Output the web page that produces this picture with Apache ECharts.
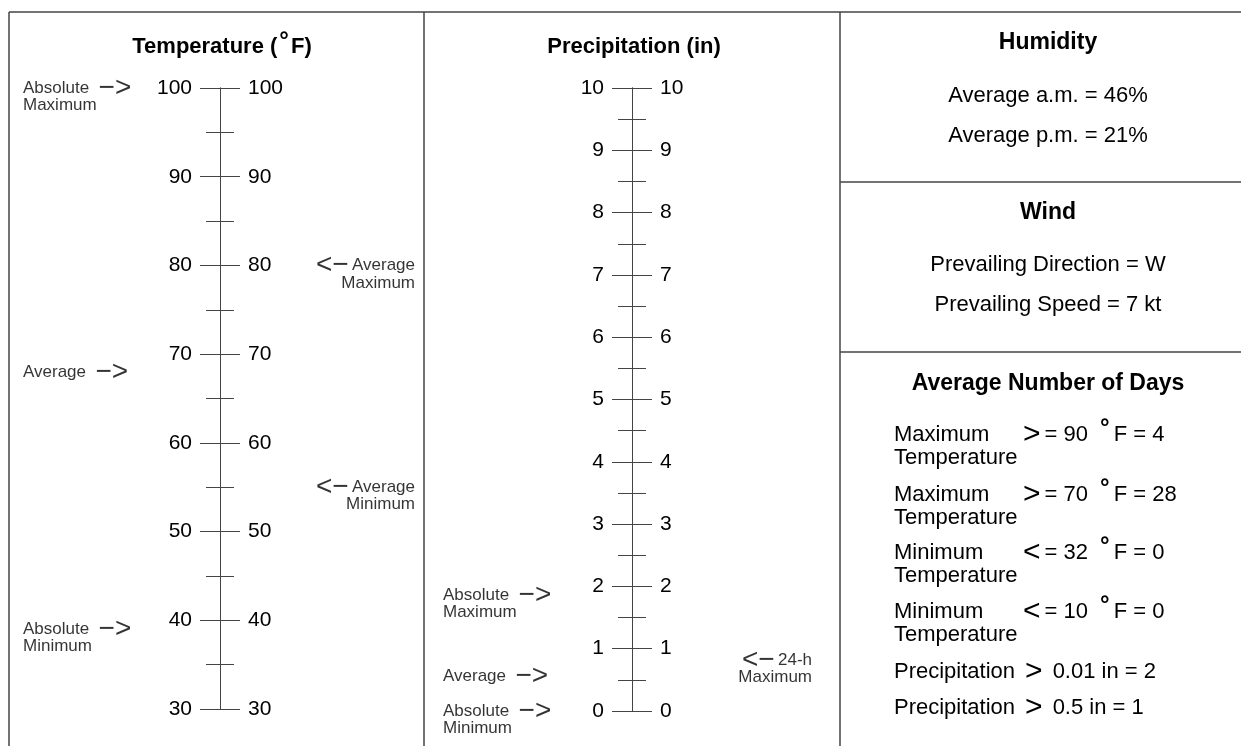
<!DOCTYPE html>
<html>
<head>
<meta charset="utf-8">
<title>Climate summary</title>
<script src="https://cdn.jsdelivr.net/npm/echarts@6/dist/echarts.min.js"></script>
<style>
  html, body { margin: 0; padding: 0; background: #fff; }
  #main { width: 1241px; height: 746px; }
</style>
</head>
<body>
<div id="main"></div>
<script>
// scales
var tempRange = [30, 100];
var tempStep = 10;
var precipRange = [0, 10];
var precipStep = 1;

// arrows on the temperature scale
var tempMarkNames = ['Absolute Maximum', 'Average Maximum', 'Average', 'Average Minimum', 'Absolute Minimum'];
var tempMarkValues = [100, 80, 68, 55, 39];

// arrows on the precipitation scale
var precipMarkNames = ['Absolute Maximum', 'Average', 'Absolute Minimum', '24-h Maximum'];
var precipMarkValues = [1.86, 0.55, 0, 0.82];

// right column
var humidityLabels = ['Average a.m.', 'Average p.m.'];
var humidityValues = ['46%', '21%'];
var windLabels = ['Prevailing Direction', 'Prevailing Speed'];
var windValues = ['W', '7 kt'];

var dayLabels = ['Maximum\nTemperature', 'Maximum\nTemperature', 'Minimum\nTemperature', 'Minimum\nTemperature', 'Precipitation', 'Precipitation'];
var dayOps = ['>=', '>=', '<=', '<=', '>', '>'];
var dayLimits = ['90', '70', '32', '10', '0.01', '0.5'];
var dayUnits = ['°F', '°F', '°F', '°F', 'in', 'in'];
var dayValues = [4, 28, 0, 0, 2, 1];

// layout (not data)
var tempMarkSide = ['left', 'right', 'left', 'right', 'left'];
var precipMarkSide = ['left', 'left', 'left', 'right'];
var FONT = '"Liberation Sans", Arial, Helvetica, sans-serif';
var LINE = '#444';

var myChart = echarts.init(document.getElementById('main'));

var markRich = {
  t: { fontFamily: FONT, fontSize: 17, lineHeight: 20, color: '#000' },
  a: { fontFamily: FONT, fontSize: 28, lineHeight: 20, color: '#000' },
  s: { fontFamily: FONT, fontSize: 17, lineHeight: 15, color: '#000' }
};

function markText(name, side) {
  var k = name.indexOf(' ');
  var first = k < 0 ? name : name.slice(0, k);
  var rest = k < 0 ? '' : name.slice(k + 1);
  var line1 = side == 'left' ? '{t|' + first + '  }{a|−>}' : '{a|<−} {t|' + first + '}';
  return rest ? line1 + '\n{s|' + rest + '}' : line1;
}

function markSeries(idx, names, values, sides, leftDx, rightDx) {
  return {
    type: 'scatter',
    xAxisIndex: idx,
    yAxisIndex: idx * 2,
    symbolSize: 0,
    silent: true,
    clip: false,
    data: values.map(function (v, i) {
      return {
        value: [0, v],
        label: {
          show: true,
          color: '#000',
          position: [sides[i] == 'left' ? leftDx : rightDx, -10],
          align: sides[i],
          verticalAlign: 'top',
          formatter: markText(names[i], sides[i]),
          rich: markRich
        }
      };
    })
  };
}

function scaleAxis(grid, pos, range, step) {
  return {
    type: 'value',
    gridIndex: grid,
    position: pos,
    min: range[0],
    max: range[1],
    interval: step,
    axisLine: { show: true, lineStyle: { color: LINE, width: 1 } },
    axisTick: { show: true, length: 20, lineStyle: { color: LINE, width: 1 } },
    minorTick: { show: true, splitNumber: 2, length: 14, lineStyle: { color: LINE, width: 1 } },
    splitLine: { show: false },
    axisLabel: { margin: 28, fontFamily: FONT, fontSize: 21, color: '#000' }
  };
}

function txt(x, y, text, size, bold, align, rich) {
  return {
    type: 'text',
    x: x,
    y: y,
    silent: true,
    style: {
      text: text,
      fontFamily: FONT,
      fontSize: size,
      fontWeight: bold ? 'bold' : 'normal',
      fill: '#000',
      align: align || 'center',
      verticalAlign: 'middle',
      textAlign: align || 'center',
      textVerticalAlign: 'middle',
      rich: rich
    }
  };
}

function line(x1, y1, x2, y2) {
  return {
    type: 'line',
    silent: true,
    shape: { x1: x1, y1: y1, x2: x2, y2: y2 },
    style: { stroke: LINE, lineWidth: 1.5 }
  };
}

var degRich = {
  b: { fontFamily: FONT, fontSize: 22, fontWeight: 'bold', color: '#000' },
  d: { fontFamily: FONT, fontSize: 24, fontWeight: 'bold', color: '#000', padding: [0, 2, 12, 2] }
};
var rowRich = {
  n: { fontFamily: FONT, fontSize: 22, color: '#000' },
  g: { fontFamily: FONT, fontSize: 30, color: '#000', padding: [0, 4, 0, 0] },
  d: { fontFamily: FONT, fontSize: 24, fontWeight: 'bold', color: '#000', padding: [0, 4, 14, 6] }
};

var graphics = [
  line(9, 12, 1241, 12),
  line(9, 12, 9, 746),
  line(424, 12, 424, 746),
  line(840, 12, 840, 746),
  line(840, 182, 1241, 182),
  line(840, 352, 1241, 352),
  txt(222, 47, '{b|Temperature (}{d|°}{b|F)}', 22, true, 'center', degRich),
  txt(634, 47, 'Precipitation (in)', 22, true),
  txt(1048, 43, 'Humidity', 23, true),
  txt(1048, 213, 'Wind', 23, true),
  txt(1048, 384, 'Average Number of Days', 23, true)
];

humidityLabels.forEach(function (l, i) {
  graphics.push(txt(1048, 96 + i * 40, l + ' = ' + humidityValues[i], 22));
});
windLabels.forEach(function (l, i) {
  graphics.push(txt(1048, 265 + i * 40, l + ' = ' + windValues[i], 22));
});

var dayRowY = [435, 495, 553, 612, 672, 708];
dayLabels.forEach(function (l, i) {
  var parts = l.split('\n');
  graphics.push(txt(894, dayRowY[i], parts[0], 22, false, 'left'));
  if (parts[1]) graphics.push(txt(894, dayRowY[i] + 23, parts[1], 22, false, 'left'));
  var op = dayOps[i];
  var s = '{g|' + op.charAt(0) + '}';
  if (op.length > 1) s += '{n|= ' + dayLimits[i] + ' }';
  else s += '{n| ' + dayLimits[i] + ' }';
  if (dayUnits[i].charAt(0) == '°') s += '{d|°}{n|' + dayUnits[i].slice(1) + ' = ' + dayValues[i] + '}';
  else s += '{n|' + dayUnits[i] + ' = ' + dayValues[i] + '}';
  graphics.push(txt(parts[1] ? 1023 : 1025, dayRowY[i], s, 22, false, 'left', rowRich));
});

var option = {
  animation: false,
  backgroundColor: '#fff',
  grid: [
    { left: 220, top: 88, width: 0, height: 621 },
    { left: 632, top: 88, width: 0, height: 623 }
  ],
  xAxis: [
    { type: 'value', gridIndex: 0, show: false, min: 0, max: 1 },
    { type: 'value', gridIndex: 1, show: false, min: 0, max: 1 }
  ],
  yAxis: [
    scaleAxis(0, 'left', tempRange, tempStep),
    scaleAxis(0, 'right', tempRange, tempStep),
    scaleAxis(1, 'left', precipRange, precipStep),
    scaleAxis(1, 'right', precipRange, precipStep)
  ],
  series: [
    markSeries(0, tempMarkNames, tempMarkValues, tempMarkSide, -197, 195),
    markSeries(1, precipMarkNames, precipMarkValues, precipMarkSide, -189, 180)
  ],
  graphic: graphics
};

option && myChart.setOption(option);
</script>
</body>
</html>
